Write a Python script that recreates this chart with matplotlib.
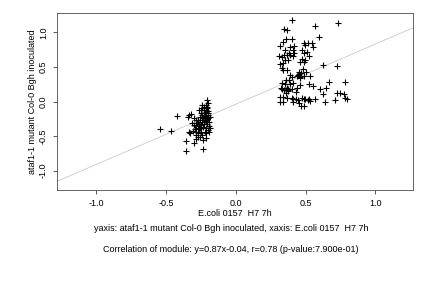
import matplotlib

matplotlib.use("Agg")
import matplotlib.pyplot as plt

# right cluster (E.coli high)
right_x = [0.401, 0.736, 0.569, 0.348, 0.365, 0.600, 0.336, 0.360, 0.401, 0.389,
           0.418, 0.490, 0.521, 0.545, 0.557, 0.497, 0.317, 0.353, 0.385, 0.413,
           0.473, 0.514, 0.528, 0.490, 0.418, 0.313, 0.348, 0.365, 0.389, 0.413,
           0.473, 0.490, 0.461, 0.497, 0.627, 0.723, 0.317, 0.336, 0.353, 0.377,
           0.329, 0.341, 0.370, 0.480, 0.456, 0.389, 0.401, 0.437, 0.461, 0.492,
           0.533, 0.665, 0.785, 0.329, 0.353, 0.389, 0.413, 0.461, 0.528, 0.329,
           0.346, 0.360, 0.377, 0.401, 0.442, 0.605, 0.648, 0.724, 0.749, 0.778,
           0.557, 0.627, 0.317, 0.336, 0.370, 0.401, 0.432, 0.473, 0.490, 0.528,
           0.569, 0.785, 0.317, 0.336, 0.408, 0.449, 0.497, 0.521, 0.533, 0.641,
           0.713, 0.797, 0.413, 0.456, 0.466, 0.490, 0.324, 0.360, 0.385, 0.370,
           0.360, 0.452, 0.468, 0.445, 0.458, 0.378, 0.372, 0.430, 0.335, 0.505]
right_y = [1.178, 1.130, 1.092, 1.048, 1.034, 0.928, 0.855, 0.904, 0.904, 0.793,
           0.802, 0.841, 0.850, 0.850, 0.793, 0.817, 0.802, 0.744, 0.706, 0.744,
           0.744, 0.720, 0.658, 0.696, 0.696, 0.658, 0.672, 0.672, 0.672, 0.658,
           0.610, 0.576, 0.576, 0.600, 0.528, 0.513, 0.537, 0.561, 0.600, 0.600,
           0.479, 0.455, 0.455, 0.465, 0.431, 0.383, 0.349, 0.368, 0.359, 0.368,
           0.368, 0.287, 0.287, 0.272, 0.253, 0.253, 0.262, 0.238, 0.253, 0.176,
           0.166, 0.166, 0.176, 0.176, 0.190, 0.176, 0.190, 0.118, 0.118, 0.108,
           0.224, 0.108, 0.070, 0.060, 0.046, 0.046, 0.036, 0.055, 0.036, 0.036,
           0.036, 0.046, -0.002, -0.002, 0.031, 0.022, 0.031, 0.022, 0.012, -0.002,
           0.022, 0.031, -0.002, -0.026, -0.065, -0.065, 0.200, 0.311, 0.311, 0.200,
           0.128, 0.395, 0.410, 0.380, 0.345, 0.165, 0.150, 0.140, 0.640, 0.420]

# left cluster (E.coli low)
left_x = [-0.542, -0.463, -0.420, -0.358, -0.354, -0.337, -0.330, -0.341, -0.333, -0.300,
          -0.310, -0.281, -0.281, -0.270, -0.317, -0.234, -0.214, -0.257, -0.270, -0.245,
          -0.205, -0.262, -0.252, -0.281, -0.257, -0.234, -0.229, -0.214, -0.205, -0.198,
          -0.198, -0.191, -0.210, -0.222, -0.245, -0.286, -0.298, -0.293, -0.229, -0.245,
          -0.222, -0.257, -0.229, -0.240, -0.210, -0.198, -0.222, -0.191, -0.205, -0.262,
          -0.272, -0.250, -0.269, -0.234, -0.247, -0.219, -0.200, -0.214, -0.186, -0.234,
          -0.210, -0.196, -0.226, -0.250, -0.240, -0.257, -0.277, -0.296, -0.305, -0.281,
          -0.210, -0.198, -0.186, -0.191, -0.215, -0.205, -0.228, -0.262, -0.242, -0.203]
left_y = [-0.398, -0.427, -0.210, -0.716, -0.571, -0.436, -0.460, -0.219, -0.195, -0.605,
          -0.316, -0.267, -0.354, -0.267, -0.186, -0.687, -0.523, -0.508, -0.460, -0.051,
          0.022, -0.123, -0.171, -0.436, -0.388, -0.364, -0.292, -0.123, -0.075, -0.171,
          -0.243, -0.354, -0.388, -0.436, -0.484, -0.484, -0.340, -0.402, -0.195, -0.219,
          -0.229, -0.267, -0.123, -0.099, -0.051, -0.027, -0.161, -0.292, -0.325, -0.325,
          -0.388, -0.436, -0.518, -0.556, -0.340, -0.267, -0.195, -0.209, -0.219, -0.243,
          -0.277, -0.133, -0.075, -0.123, -0.292, -0.219, -0.306, -0.243, -0.427, -0.547,
          -0.450, -0.412, -0.388, -0.436, -0.150, -0.250, -0.320, -0.400, -0.200, -0.100]

slope = 0.87
intercept = -0.04
ticks = [-1.0, -0.5, 0.0, 0.5, 1.0]
tick_labels = ["-1.0", "-0.5", "0.0", "0.5", "1.0"]

xlabel = "E.coli 0157  H7 7h"
ylabel = "ataf1-1 mutant Col-0 Bgh inoculated"
line1 = "yaxis: ataf1-1 mutant Col-0 Bgh inoculated, xaxis: E.coli 0157  H7 7h"
line2 = "Correlation of module: y=0.87x-0.04, r=0.78 (p-value:7.900e-01)"


def main():
    plt.rcParams.update({"font.family": ["Liberation Sans", "DejaVu Sans"]})
    fig = plt.figure(figsize=(6, 4), dpi=72)
    ax = fig.add_axes([0.132, 0.340, 0.824, 0.615])

    ax.axline((0, intercept), slope=slope, color="#c8c8c8", linewidth=0.8, zorder=1)
    xs = right_x + left_x
    ys = right_y + left_y
    ax.scatter(xs, ys, marker="+", s=30, color="black", linewidths=1.1, zorder=2)

    ax.set_xlim(-1.28, 1.27)
    ax.set_ylim(-1.28, 1.28)
    ax.set_xticks(ticks)
    ax.set_xticklabels(tick_labels)
    ax.set_yticks(ticks)
    ax.set_yticklabels(tick_labels, rotation=90, va="center")
    ax.tick_params(labelsize=9, length=4, width=0.8, color="#333333", pad=5)
    for sp in ax.spines.values():
        sp.set_color("#444444")
        sp.set_linewidth(0.8)

    ax.set_xlabel(xlabel, fontsize=9, labelpad=1)
    ax.set_ylabel(ylabel, fontsize=9, labelpad=2)

    fig.text(0.535, 0.205, line1, fontsize=9, ha="center", va="center")
    fig.text(0.535, 0.135, line2, fontsize=9, ha="center", va="center")

    fig.savefig("out.png", dpi=72)


if __name__ == "__main__":
    main()
